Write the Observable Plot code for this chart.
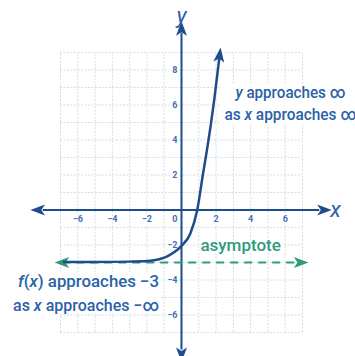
<!DOCTYPE html>
<html>
<head>
<meta charset="utf-8">
<script src="https://cdn.jsdelivr.net/npm/d3@7"></script>
<script src="https://cdn.jsdelivr.net/npm/@observablehq/plot@0.6"></script>
<style>
  html, body { margin: 0; padding: 0; background: #fff; }
  #chart svg { display: block; }
</style>
</head>
<body>
<div id="chart"></div>
<script>
// ---- data ----
const curveX = [-6.8, -5, -3, -2, -1.6, -0.8, 0, 0.5, 0.91, 1.25, 1.5, 1.7, 1.92, 2.2];
const curveY = [-2.97, -2.97, -2.95, -2.92, -2.87, -2.63, -2.05, -1.37, 0, 2.1, 3.6, 4.9, 6.5, 8.8];
const asymptoteY = -3;
const xTicks = [-6, -4, -2, 2, 4, 6];
const yTicks = [8, 6, 4, 2, -2, -4, -6];
const gridX = [-7, -6, -5, -4, -3, -2, -1, 0, 1, 2, 3, 4, 5, 6, 7];
const gridY = [-7, -6, -5, -4, -3, -2, -1, 0, 1, 2, 3, 4, 5, 6, 7, 8, 9];
const rightLabels = ["y approaches ∞", "as x approaches ∞"];
const leftLabels = ["f(x) approaches −3", "as x approaches −∞"];
const asymptoteLabel = "asymptote";

const FONT = 'Roboto, "Liberation Sans", sans-serif';
const BLUE = "#1f4c8c", TEXTBLUE = "#2a62a8", TICKBLUE = "#3d70b0", GREEN = "#2e9b7c", GRID = "#d0dee6";

const curve = curveX.map((x, i) => ({x, y: curveY[i]}));

// notched arrowhead symbol pointing up
const arrowHead = {
  draw(ctx, size) {
    const s = Math.sqrt(size) / 8;
    ctx.moveTo(0, -7 * s);
    ctx.lineTo(4.5 * s, 5 * s);
    ctx.lineTo(0, 2 * s);
    ctx.lineTo(-4.5 * s, 5 * s);
    ctx.closePath();
  }
};

const axisHeads = [
  {x: 8.2, y: 0, r: 90}, {x: -8.25, y: 0, r: -90},
  {x: 0, y: 10.3, r: 0}, {x: 0, y: -8.2, r: 180}
];
const greenHeads = [{x: 6.85, y: asymptoteY, r: 90}, {x: -6.85, y: asymptoteY, r: -90}];
const curveHead = [{x: curveX[curveX.length - 1], y: curveY[curveY.length - 1], r: 7}];

const plot = Plot.plot({
  width: 355,
  height: 356,
  margin: 0,
  style: {background: "#fff", fontFamily: FONT},
  x: {domain: [-7, 7], range: [60, 302], axis: null},
  y: {domain: [-7, 9], range: [332, 52], axis: null},
  marks: [
    // grid
    Plot.ruleX(gridX, {y1: -7, y2: 9, stroke: GRID, strokeWidth: 1, strokeDasharray: "2,1.5"}),
    Plot.ruleY(gridY, {x1: -7, x2: 7, stroke: GRID, strokeWidth: 1, strokeDasharray: "2,1.5"}),
    // white boxes behind annotations
    Plot.rect([{x1: 2.3, x2: 10.5, y1: 4.85, y2: 7.2}], {x1: "x1", x2: "x2", y1: "y1", y2: "y2", fill: "#fff"}),
    Plot.rect([{x1: -10.5, x2: -1.2, y1: -5.95, y2: -3.55}], {x1: "x1", x2: "x2", y1: "y1", y2: "y2", fill: "#fff"}),
    // axes
    Plot.ruleY([0], {x1: -8.0, x2: 8.0, stroke: BLUE, strokeWidth: 2}),
    Plot.ruleX([0], {y1: -8.0, y2: 10.1, stroke: BLUE, strokeWidth: 2}),
    Plot.dot(axisHeads, {x: "x", y: "y", rotate: "r", symbol: arrowHead, r: 5.5, fill: BLUE, stroke: null}),
    // asymptote
    Plot.ruleY([asymptoteY], {x1: -6.7, x2: 6.7, stroke: GREEN, strokeWidth: 2, strokeDasharray: "8,6", strokeDashoffset: 3}),
    Plot.dot(greenHeads, {x: "x", y: "y", rotate: "r", symbol: arrowHead, r: 5.5, fill: GREEN, stroke: null}),
    // tick labels
    Plot.text(xTicks, {x: d => d, y: 0, dy: 9, text: d => d < 0 ? "−" + Math.abs(d) : String(d), fill: TICKBLUE, fontSize: 9, fontWeight: "bold", stroke: "#fff", strokeWidth: 3}),
    Plot.text(yTicks, {x: 0, y: d => d, dx: -4, textAnchor: "end", text: d => d < 0 ? "−" + Math.abs(d) : String(d), fill: TICKBLUE, fontSize: 9, fontWeight: "bold", stroke: "#fff", strokeWidth: 3}),
    Plot.text(["0"], {x: 0, y: 0, dx: -4, dy: 9, textAnchor: "end", fill: TICKBLUE, fontSize: 9, fontWeight: "bold"}),
    // curve
    Plot.line(curve, {x: "x", y: "y", curve: "monotone-x", stroke: BLUE, strokeWidth: 2.5}),
    Plot.dot(curveHead, {x: "x", y: "y", rotate: "r", symbol: arrowHead, r: 5.5, fill: BLUE, stroke: null}),
    // axis names
    Plot.text(["x"], {x: 7, y: 0, dx: 33, text: d => d, fontSize: 22, fontStyle: "italic", fill: TEXTBLUE}),
    Plot.text(["y"], {x: 0, y: 9, dy: -37, text: d => d, fontSize: 22, fontStyle: "italic", fill: TEXTBLUE}),
    // annotations
    Plot.text(rightLabels, {x: 6.3, y: (d, i) => [6.72, 5.45][i], text: d => d, textAnchor: "middle", fill: TEXTBLUE, fontSize: 17, fontWeight: 500}),
    Plot.text(leftLabels, {x: -1.3, y: (d, i) => [-4.1, -5.45][i], text: d => d, textAnchor: "end", fill: TEXTBLUE, fontSize: 17, fontWeight: 500}),
    Plot.text([asymptoteLabel], {x: 3.42, y: -2.05, text: d => d, textAnchor: "middle", fill: GREEN, fontSize: 17, fontWeight: 500, stroke: "#fff", strokeWidth: 3})
  ]
});

// italicize the math letters in the annotations, condense them to the reference widths
const rich = rightLabels.concat(leftLabels);
const widths = {"y approaches ∞": 110, "as x approaches ∞": 132, "f(x) approaches −3": 141, "as x approaches −∞": 146};
plot.querySelectorAll("text").forEach(el => {
  const s = el.textContent;
  if (!rich.includes(s)) return;
  el.textContent = "";
  s.split(/(\b[xyf]\b)/).forEach(part => {
    if (!part) return;
    const ts = document.createElementNS("http://www.w3.org/2000/svg", "tspan");
    ts.textContent = part;
    if (/^[xyf]$/.test(part)) ts.setAttribute("font-style", "italic");
    el.appendChild(ts);
  });
  el.setAttribute("textLength", widths[s]);
  el.setAttribute("lengthAdjust", "spacingAndGlyphs");
});

document.getElementById("chart").appendChild(plot);
</script>
</body>
</html>
